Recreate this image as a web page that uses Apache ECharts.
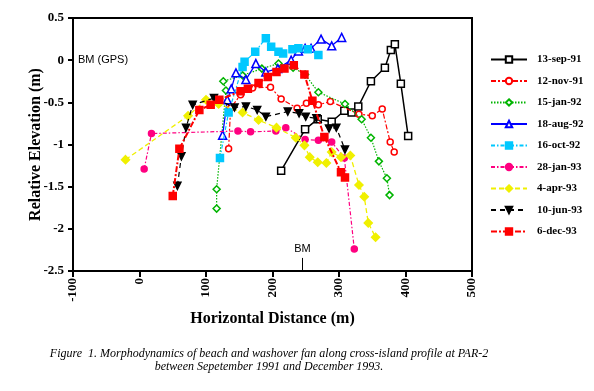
<!DOCTYPE html>
<html>
<head>
<meta charset="utf-8">
<script src="https://cdn.jsdelivr.net/npm/echarts@6/dist/echarts.min.js"></script>
<style>
html,body{margin:0;padding:0;background:#fff;}
#c{width:594px;height:391px;}
</style>
</head>
<body>
<div id="c"></div>
<script>
// ---- data (Horizontal Distance m, Relative Elevation m) ----
const seriesNames = ['13-sep-91','12-nov-91','15-jan-92','18-aug-92','16-oct-92','28-jan-93','4-apr-93','10-jun-93','6-dec-93'];
const xTickVals = [-100, 0, 100, 200, 300, 400, 500];
const yTickVals = [0.5, 0, -0.5, -1, -1.5, -2, -2.5];

const sep91 = [[213,-1.31],[249,-0.82],[268,-0.70],[289,-0.73],[308,-0.60],[319,-0.62],[329,-0.55],[348,-0.25],[369,-0.09],[378,0.12],[384,0.19],[393,-0.28],[404,-0.90]];
const nov91 = [[134,-1.05],[137,-0.57],[152,-0.41],[170,-0.33],[197,-0.32],[213,-0.46],[237,-0.57],[251,-0.51],[269,-0.53],[287,-0.49],[330,-0.64],[350,-0.66],[365,-0.58],[377,-0.97],[383,-1.09]];
const jan92 = [[116,-1.76],[116,-1.53],[130,-0.36],[126,-0.25],[155,-0.18],[184,-0.10],[209,-0.04],[231,-0.09],[249,-0.17],[269,-0.38],[309,-0.52],[334,-0.70],[348,-0.92],[360,-1.20],[372,-1.40],[376,-1.60]];
const aug92 = [[125,-0.89],[132,-0.47],[138,-0.34],[145,-0.15],[160,-0.23],[175,-0.04],[190,-0.14],[208,-0.10],[228,0.00],[239,0.11],[249,0.14],[258,0.14],[273,0.25],[289,0.17],[304,0.27]];
const oct92 = [[121,-1.16],[134,-0.62],[155,-0.08],[158,-0.02],[174,0.10],[190,0.26],[198,0.16],[209,0.10],[216,0.08],[230,0.13],[239,0.14],[253,0.13],[269,0.06]];
const jan93 = [[7,-1.29],[18,-0.87],[148,-0.84],[167,-0.85],[205,-0.84],[220,-0.80],[249,-0.94],[269,-0.95],[289,-0.97],[308,-1.16],[323,-2.24]];
const apr93 = [[-21,-1.18],[73,-0.66],[100,-0.47],[119,-0.52],[155,-0.62],[179,-0.71],[206,-0.80],[235,-0.92],[248,-1.01],[256,-1.15],[268,-1.21],[281,-1.22],[289,-1.09],[303,-1.15],[317,-1.13],[330,-1.48],[338,-1.62],[344,-1.93],[355,-2.10]];
const jun93 = [[57,-1.49],[63,-1.14],[70,-0.80],[80,-0.53],[112,-0.45],[143,-0.56],[160,-0.55],[177,-0.59],[190,-0.67],[223,-0.61],[240,-0.63],[250,-0.67],[266,-0.69],[285,-0.81],[296,-0.80],[309,-1.06]];
const dec93 = [[50,-1.61],[60,-1.05],[90,-0.59],[107,-0.53],[120,-0.47],[152,-0.37],[163,-0.34],[179,-0.27],[193,-0.20],[206,-0.14],[218,-0.10],[232,-0.06],[248,-0.17],[260,-0.48],[278,-0.91],[303,-1.33],[309,-1.39]];

const bmX = 245;        // benchmark location
const bmTop = -2.345;

const SERIF = '"Liberation Serif","Times New Roman",serif';
const SANS = '"Liberation Sans",Arial,sans-serif';

const styles = [
  {data: sep91, color:'#000000', type:'solid', w:1.5, sym:'rect', size:7, fill:'#ffffff'},
  {data: nov91, color:'#ff0000', type:[5,2,2,2], w:1.2, sym:'circle', size:6, fill:'#ffffff'},
  {data: jan92, color:'#00b400', type:[1.5,1.5], w:1.2, sym:'diamond', size:7, fill:'#ffffff'},
  {data: aug92, color:'#0000ff', type:'solid', w:1.3, sym:'triangle', size:8, fill:'#ffffff'},
  {data: oct92, color:'#00c8ff', type:[4,2,1.5,2], w:1.2, sym:'rect', size:7, fill:'#00c8ff'},
  {data: jan93, color:'#ff0080', type:[4,2,1.5,2], w:1.2, sym:'circle', size:6, fill:'#ff0080'},
  {data: apr93, color:'#f0f000', type:[5,3], w:1.3, sym:'diamond', size:8, fill:'#f0f000'},
  {data: jun93, color:'#000000', type:[5,4], w:1.2, sym:'triangle', size:7, fill:'#000000', rot:180},
  {data: dec93, color:'#ff0000', type:[6,2,2,2], w:2, sym:'rect', size:7, fill:'#ff0000'}
];

const series = styles.map((s, i) => {
  const o = {
    name: seriesNames[i],
    type: 'line',
    data: s.data,
    symbol: s.sym,
    symbolSize: s.size,
    symbolRotate: s.rot || 0,
    showAllSymbol: true,
    animation: false,
    lineStyle: {color: s.color, width: s.w, type: s.type},
    itemStyle: {color: s.fill, borderColor: s.color, borderWidth: 1.5},
    z: 2 + i
  };
  if (i === 0) {
    o.markLine = {
      silent: true, symbol: 'none', animation: false,
      lineStyle: {color: '#000', width: 1, type: 'solid'},
      label: {show: true, position: 'end', formatter: 'BM', fontFamily: SANS, fontSize: 11, color: '#000', distance: 3},
      data: [[{coord: [bmX, -2.5]}, {coord: [bmX, bmTop]}]]
    };
  }
  return o;
});

const chart = echarts.init(document.getElementById('c'), null, {renderer: 'canvas'});
chart.setOption({
  backgroundColor: '#ffffff',
  animation: false,
  grid: {left: 73, top: 18, right: 122, bottom: 120, show: true, borderColor: '#000', borderWidth: 2, backgroundColor: 'transparent'},
  xAxis: {
    type: 'value', min: -100, max: 500, interval: 100,
    name: 'Horizontal Distance (m)', nameLocation: 'middle', nameGap: 40,
    nameTextStyle: {fontFamily: SERIF, fontWeight: 'bold', fontSize: 16, color: '#000'},
    axisLine: {show: true, onZero: false, lineStyle: {color: '#000', width: 2}},
    axisTick: {show: true, inside: false, length: 6, lineStyle: {color: '#000', width: 2}},
    axisLabel: {rotate: 90, margin: 7, fontFamily: SERIF, fontWeight: 'bold', fontSize: 13, color: '#000',
      formatter: v => xTickVals.includes(v) ? String(v) : ''},
    splitLine: {show: false}
  },
  yAxis: {
    type: 'value', min: -2.5, max: 0.5, interval: 0.5,
    name: 'Relative Elevation (m)', nameLocation: 'middle', nameGap: 29, nameMoveOverlap: false,
    nameTextStyle: {fontFamily: SERIF, fontWeight: 'bold', fontSize: 16, color: '#000'},
    axisLine: {show: true, onZero: false, lineStyle: {color: '#000', width: 2}},
    axisTick: {show: true, inside: false, length: 5, lineStyle: {color: '#000', width: 2}},
    axisLabel: {margin: 9, fontFamily: SERIF, fontWeight: 'bold', fontSize: 13, color: '#000',
      formatter: v => { const t = yTickVals.find(q => Math.abs(q - v) < 1e-9); return t === undefined ? '' : String(t); }},
    splitLine: {show: false}
  },
  legend: {
    orient: 'vertical', left: 485, top: 49,
    itemWidth: 36, itemHeight: 8, itemGap: 10.5,
    data: seriesNames,
    textStyle: {fontFamily: SERIF, fontWeight: 'bold', fontSize: 11, color: '#000', padding: [0, 0, 0, 5]},
    selectedMode: false
  },
  graphic: [
    {type: 'text', left: 78, top: 54, style: {text: 'BM (GPS)', font: '11px ' + SANS, fill: '#000'}},
    {type: 'text', x: 269, y: 354, style: {text: 'Figure  1. Morphodynamics of beach and washover fan along cross-island profile at PAR-2', font: 'italic 12px ' + SERIF, fill: '#000', align: 'center', verticalAlign: 'middle'}},
    {type: 'text', x: 269, y: 367, style: {text: 'between Sepetember 1991 and December 1993.', font: 'italic 12px ' + SERIF, fill: '#000', align: 'center', verticalAlign: 'middle'}}
  ],
  series: series
});
</script>
</body>
</html>
